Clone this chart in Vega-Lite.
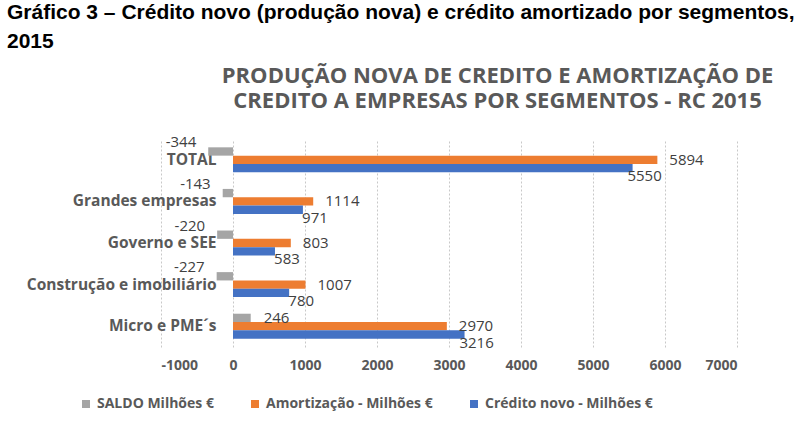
{
  "$schema": "https://vega.github.io/schema/vega-lite/v6.json",
  "autosize": {"type": "none"},
  "width": 576,
  "height": 208,
  "padding": {"left": 161, "top": 139, "right": 65, "bottom": 91},
  "background": "white",
  "config": {
    "view": {"stroke": null},
    "font": "Open Sans"
  },
  "title": {
    "text": ["Gráfico 3 – Crédito novo (produção nova) e crédito amortizado por segmentos,", "2015"],
    "anchor": "start",
    "frame": "group",
    "dx": -154,
    "offset": 12,
    "font": "Liberation Sans",
    "fontSize": 21,
    "fontWeight": "bold",
    "color": "#000000",
    "lineHeight": 29
  },
  "data": {
    "values": [
      {"segmento": "TOTAL", "serie": "SALDO Milhões €", "valor": -344},
      {"segmento": "TOTAL", "serie": "Amortização - Milhões €", "valor": 5894},
      {"segmento": "TOTAL", "serie": "Crédito novo - Milhões €", "valor": 5550},
      {"segmento": "Grandes empresas", "serie": "SALDO Milhões €", "valor": -143},
      {"segmento": "Grandes empresas", "serie": "Amortização - Milhões €", "valor": 1114},
      {"segmento": "Grandes empresas", "serie": "Crédito novo - Milhões €", "valor": 971},
      {"segmento": "Governo e SEE", "serie": "SALDO Milhões €", "valor": -220},
      {"segmento": "Governo e SEE", "serie": "Amortização - Milhões €", "valor": 803},
      {"segmento": "Governo e SEE", "serie": "Crédito novo - Milhões €", "valor": 583},
      {"segmento": "Construção e imobiliário", "serie": "SALDO Milhões €", "valor": -227},
      {"segmento": "Construção e imobiliário", "serie": "Amortização - Milhões €", "valor": 1007},
      {"segmento": "Construção e imobiliário", "serie": "Crédito novo - Milhões €", "valor": 780},
      {"segmento": "Micro e PME´s", "serie": "SALDO Milhões €", "valor": 246},
      {"segmento": "Micro e PME´s", "serie": "Amortização - Milhões €", "valor": 2970},
      {"segmento": "Micro e PME´s", "serie": "Crédito novo - Milhões €", "valor": 3216}
    ]
  },
  "transform": [{"calculate": "'' + datum.valor", "as": "rotulo"}],
  "encoding": {
    "y": {
      "field": "segmento",
      "type": "nominal",
      "sort": ["TOTAL", "Grandes empresas", "Governo e SEE", "Construção e imobiliário", "Micro e PME´s"],
      "scale": {"paddingInner": 0.4, "paddingOuter": 0.2},
      "axis": {
        "title": null,
        "domain": false,
        "ticks": false,
        "offset": -60,
        "labelPadding": 5,
        "labelFont": "Open Sans",
        "labelFontSize": 15.5,
        "labelFontWeight": "bold",
        "labelColor": "#595959",
        "labelLimit": 300
      }
    },
    "yOffset": {
      "field": "serie",
      "type": "nominal",
      "sort": ["SALDO Milhões €", "Amortização - Milhões €", "Crédito novo - Milhões €"],
      "scale": {"paddingInner": 0, "paddingOuter": 0}
    }
  },
  "resolve": {"axis": {"x": "independent"}},
  "layer": [
    {
      "mark": {"type": "bar"},
      "encoding": {
        "x": {
          "field": "valor",
          "type": "quantitative",
          "scale": {"domain": [-1000, 7000], "nice": false, "zero": false},
          "axis": {
            "orient": "bottom",
            "title": null,
            "values": [-1000, 0, 1000, 2000, 3000, 4000, 5000, 6000, 7000],
            "labelExpr": "'' + datum.value",
            "domain": false,
            "ticks": false,
            "grid": true,
            "gridColor": "#C8C8C8",
            "gridDash": [2, 2],
            "labelPadding": 11,
            "labelFont": "Open Sans",
            "labelFontSize": 14,
            "labelFontWeight": "bold",
            "labelColor": "#595959"
          }
        },
        "color": {
          "field": "serie",
          "type": "nominal",
          "scale": {
            "domain": ["SALDO Milhões €", "Amortização - Milhões €", "Crédito novo - Milhões €"],
            "range": ["#A5A5A5", "#ED7D31", "#4472C4"]
          },
          "legend": {
            "title": null,
            "orient": "none",
            "direction": "horizontal",
            "legendX": -82,
            "legendY": 258,
            "symbolType": "square",
            "symbolSize": 64,
            "symbolStrokeWidth": 0,
            "columnPadding": 34,
            "labelLimit": 400,
            "labelFont": "Open Sans",
            "labelFontSize": 14,
            "labelFontWeight": "bold",
            "labelColor": "#595959"
          }
        }
      }
    },
    {
      "transform": [{"filter": "datum.serie == 'SALDO Milhões €' && datum.valor < 0"}],
      "mark": {"type": "text", "align": "right", "baseline": "middle", "dx": -12, "dy": -9, "font": "Open Sans", "fontSize": 15, "color": "#404040"},
      "encoding": {
        "x": {
          "field": "valor",
          "type": "quantitative",
          "axis": {
            "orient": "top",
            "title": ["PRODUÇÃO NOVA DE CREDITO E AMORTIZAÇÃO DE", "CREDITO A EMPRESAS POR SEGMENTOS - RC 2015"],
            "titleFont": "Open Sans",
            "titleFontSize": 22,
            "titleFontWeight": "bold",
            "titleColor": "#595959",
            "titleAlign": "center",
            "titleAnchor": "start",
            "titleBaseline": "alphabetic",
            "titleX": 336,
            "titleY": -57,
            "titleLineHeight": 25,
            "labels": false,
            "ticks": false,
            "domain": false,
            "grid": false
          }
        },
        "text": {"field": "rotulo", "type": "nominal"}
      }
    },
    {
      "transform": [{"filter": "datum.serie == 'SALDO Milhões €' && datum.valor >= 0"}],
      "mark": {"type": "text", "align": "left", "baseline": "middle", "dx": 13, "dy": 0, "font": "Open Sans", "fontSize": 15, "color": "#404040"},
      "encoding": {
        "x": {"field": "valor", "type": "quantitative", "axis": null},
        "text": {"field": "rotulo", "type": "nominal"}
      }
    },
    {
      "transform": [{"filter": "datum.serie == 'Amortização - Milhões €'"}],
      "mark": {"type": "text", "align": "left", "baseline": "middle", "dx": 12, "dy": 0, "font": "Open Sans", "fontSize": 15, "color": "#404040"},
      "encoding": {
        "x": {"field": "valor", "type": "quantitative", "axis": null},
        "text": {"field": "rotulo", "type": "nominal"}
      }
    },
    {
      "transform": [{"filter": "datum.serie == 'Crédito novo - Milhões €'"}],
      "mark": {"type": "text", "align": "center", "baseline": "middle", "dx": 12, "dy": 8, "font": "Open Sans", "fontSize": 15, "color": "#404040"},
      "encoding": {
        "x": {"field": "valor", "type": "quantitative", "axis": null},
        "text": {"field": "rotulo", "type": "nominal"}
      }
    }
  ]
}
